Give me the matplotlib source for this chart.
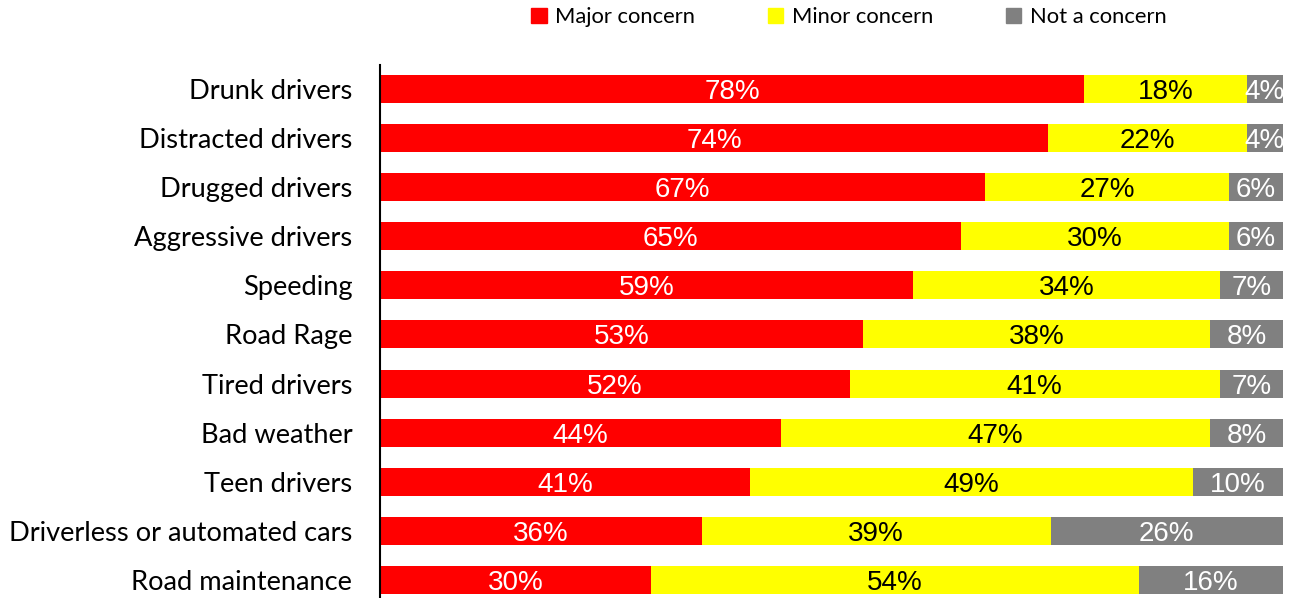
import matplotlib.pyplot as plt
from matplotlib.patches import Patch

# Data
categories = ["Drunk drivers", "Distracted drivers", "Drugged drivers", "Aggressive drivers",
              "Speeding", "Road Rage", "Tired drivers", "Bad weather", "Teen drivers",
              "Driverless or automated cars", "Road maintenance"]
major = [78, 74, 67, 65, 59, 53, 52, 44, 41, 36, 30]
minor = [18, 22, 27, 30, 34, 38, 41, 47, 49, 39, 54]
not_concern = [4, 4, 6, 6, 7, 8, 7, 8, 10, 26, 16]

series = [("Major concern", major, "#FF0000", "white"),
          ("Minor concern", minor, "#FFFF00", "black"),
          ("Not a concern", not_concern, "#808080", "white")]

fig = plt.figure(figsize=(12.9, 5.98), dpi=100)
ax = fig.add_axes([380 / 1290, 0, (1283 - 380) / 1290, (598 - 65) / 598])

ypos = list(range(len(categories)))
left = [0] * len(categories)
for name, vals, color, tcol in series:
    totals = [m + n + o for m, n, o in zip(major, minor, not_concern)]
    widths = [v / t * 100 for v, t in zip(vals, totals)]
    ax.barh(ypos, widths, left=left, height=0.57, color=color, label=name)
    for y, l, w, v in zip(ypos, left, widths, vals):
        ax.text(l + w / 2, y, f"{v}%", ha="center", va="center_baseline", color=tcol,
                fontsize=20, family="Liberation Sans", clip_on=False)
    left = [l + w for l, w in zip(left, widths)]

ax.set_xlim(0, 100)
ax.set_ylim(10.37, -0.49)
ax.set_yticks(ypos)
ax.set_yticklabels(categories, fontsize=19.6, family="Lato")
ax.tick_params(axis="y", length=0, pad=20)
ax.set_xticks([])
for s in ["top", "right", "bottom"]:
    ax.spines[s].set_visible(False)
ax.spines["left"].set_linewidth(1.5)

handles = [Patch(color=c, label=n) for n, _, c, _ in series]
fig.legend(handles=handles, loc="center", bbox_to_anchor=(849 / 1290, 1 - 17 / 598), ncol=3,
           frameon=False, prop={"family": "Lato", "size": 15.8}, handlelength=0.7,
           handleheight=0.7, handletextpad=0.4, columnspacing=3.3)

fig.savefig("out.png", dpi=100)
